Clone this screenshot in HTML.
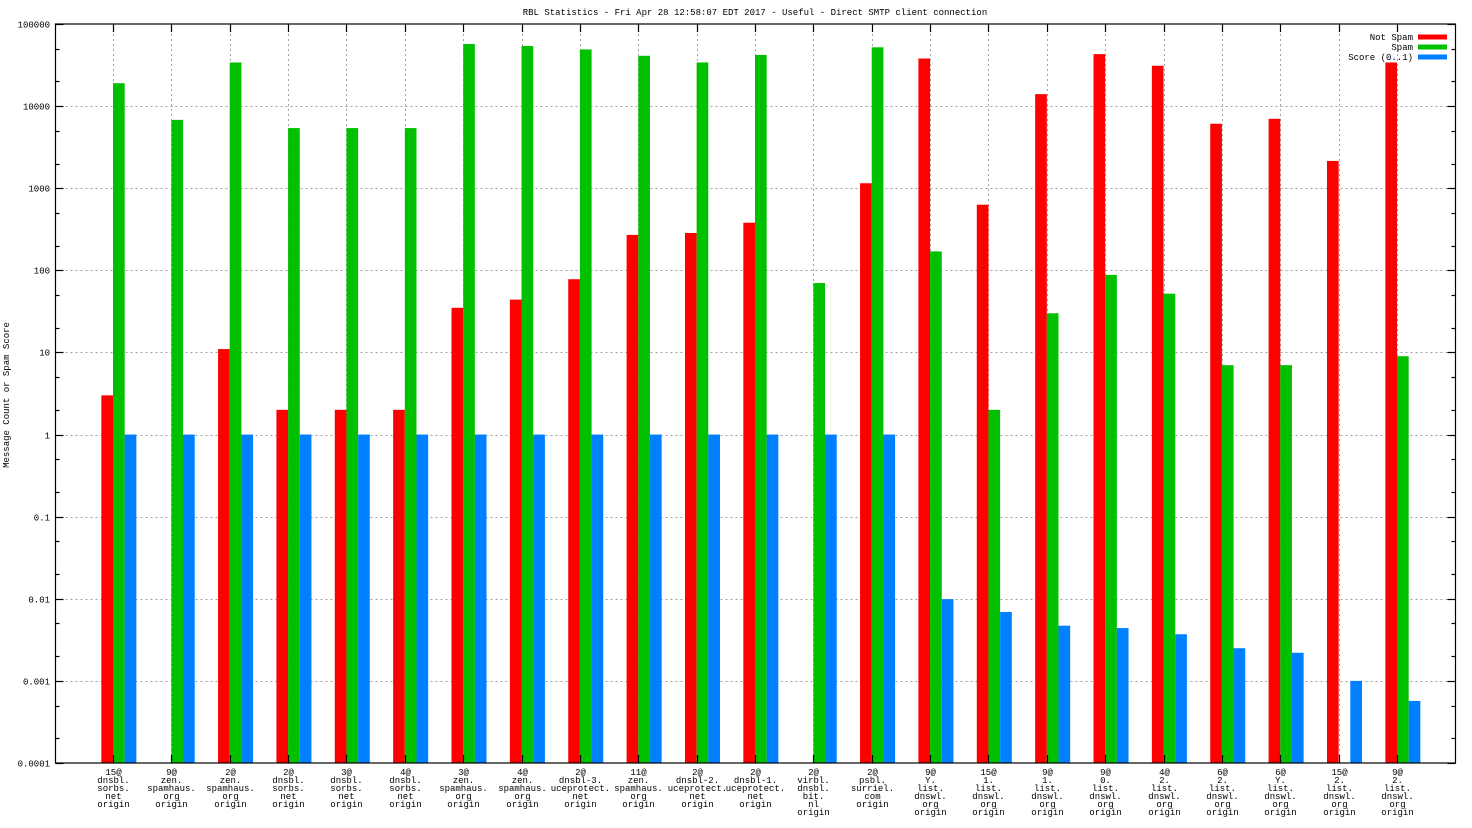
<!DOCTYPE html>
<html><head><meta charset="utf-8"><style>
html,body{margin:0;padding:0;background:#fff}
svg{display:block}
text{font-family:"Liberation Mono",monospace;font-size:9px;fill:#000}
</style></head><body>
<svg id="chart" width="1472" height="828" xmlns="http://www.w3.org/2000/svg"></svg>
<script>
const categories=[["15@","dnsbl.","sorbs.","net","origin"],["9@","zen.","spamhaus.","org","origin"],["2@","zen.","spamhaus.","org","origin"],["2@","dnsbl.","sorbs.","net","origin"],["3@","dnsbl.","sorbs.","net","origin"],["4@","dnsbl.","sorbs.","net","origin"],["3@","zen.","spamhaus.","org","origin"],["4@","zen.","spamhaus.","org","origin"],["2@","dnsbl-3.","uceprotect.","net","origin"],["11@","zen.","spamhaus.","org","origin"],["2@","dnsbl-2.","uceprotect.","net","origin"],["2@","dnsbl-1.","uceprotect.","net","origin"],["2@","virbl.","dnsbl.","bit.","nl","origin"],["2@","psbl.","surriel.","com","origin"],["9@","Y.","list.","dnswl.","org","origin"],["15@","1.","list.","dnswl.","org","origin"],["9@","1.","list.","dnswl.","org","origin"],["9@","0.","list.","dnswl.","org","origin"],["4@","2.","list.","dnswl.","org","origin"],["6@","2.","list.","dnswl.","org","origin"],["6@","Y.","list.","dnswl.","org","origin"],["15@","2.","list.","dnswl.","org","origin"],["9@","2.","list.","dnswl.","org","origin"]];
const notSpam=[3,null,11,2,2,2,35,44,78,270,285,380,null,1150,38000,630,14000,43000,31000,6100,7000,2150,34000];
const spam=[19000,6800,34000,5400,5400,5400,57000,54000,49000,41000,34000,42000,70,52000,170,2,30,88,52,7,7,null,9];
const score=[1,1,1,1,1,1,1,1,1,1,1,1,1,1,0.0099,0.0069,0.0047,0.0044,0.0037,0.0025,0.0022,0.001,0.00057];
const yTickLabels=["0.0001","0.001","0.01","0.1","1","10","100","1000","10000","100000"];
const seriesNames=["Not Spam","Spam","Score (0..1)"];
const colors=["#ff0000","#00c000","#0080ff"];

const svg=document.getElementById('chart');
const NS='http://www.w3.org/2000/svg';
const L=55.5,R=1455.5,T=24,B=763;
const x0=113,step=(1397-113)/22,bw=step*0.2;
function yScale(v){return B-(Math.log10(v)+4)/9*(B-T);}
function xScale(i){return x0+i*step;}
function mk(tag,attrs,parent){const e=document.createElementNS(NS,tag);for(const k in attrs)e.setAttribute(k,attrs[k]);(parent||svg).appendChild(e);return e;}

let t=mk('text',{x:755,y:15,'text-anchor':'middle'});


t.textContent="RBL Statistics - Fri Apr 28 12:58:07 EDT 2017 - Useful - Direct SMTP client connection";
t=mk('text',{x:9,y:395,'text-anchor':'middle',transform:'rotate(-90 9 395)'});


t.textContent="Message Count or Spam Score";

const grid=mk('g',{stroke:'#a0a0a0','stroke-dasharray':'2,3','stroke-width':1});


yTickLabels.forEach((lab,k)=>{
  const v=parseFloat(lab),y=Math.round(yScale(v))+0.5;
  if(k>0&&k<yTickLabels.length-1)mk('line',{x1:L,x2:R,y1:y,y2:y},grid);
  const tl=mk('text',{x:50,y:y+3,'text-anchor':'end'});
  
  
  tl.textContent=lab;
});
categories.forEach((c,i)=>{const x=Math.round(xScale(i))+0.5;mk('line',{x1:x,x2:x,y1:T,y2:B},grid);});

const bars=mk('g',{});


[notSpam,spam,score].forEach((arr,s)=>{
  arr.forEach((v,i)=>{
    if(v==null)return;
    const x=xScale(i)+(s-1)*bw,y=yScale(v);
    const r=mk('rect',{x:x,y:y,width:bw,height:B-y,fill:colors[s]},bars);
    
    
  });
});

const ax=mk('g',{stroke:'#000','stroke-width':1.2,fill:'none'});


mk('rect',{x:L,y:T,width:R-L,height:B-T},ax);
for(let d=-4;d<=5;d++){
  [1,2,5].forEach(m=>{
    const v=m*Math.pow(10,d);if(v>1e5)return;
    const y=Math.round(yScale(v))+0.5,len=m===1?8:4;
    mk('line',{x1:L,x2:L+len,y1:y,y2:y},ax);mk('line',{x1:R,x2:R-len,y1:y,y2:y},ax);
  });
}
categories.forEach((c,i)=>{
  const x=Math.round(xScale(i))+0.5;
  mk('line',{x1:x,x2:x,y1:T,y2:T+8},ax);mk('line',{x1:x,x2:x,y1:B,y2:B-8},ax);
  c.forEach((line,j)=>{
    const tl=mk('text',{x:x,y:775+j*8,'text-anchor':'middle'});
    
    
    tl.textContent=line;
  });
});

const leg=mk('g',{});


seriesNames.forEach((n,k)=>{
  const y=37+k*10;
  const tl=mk('text',{x:1413,y:y+3,'text-anchor':'end'},leg);
  
  
  tl.textContent=n;
  mk('rect',{x:1418,y:y-2.5,width:29,height:5,fill:colors[k]},leg);
});
</script>
</body></html>
